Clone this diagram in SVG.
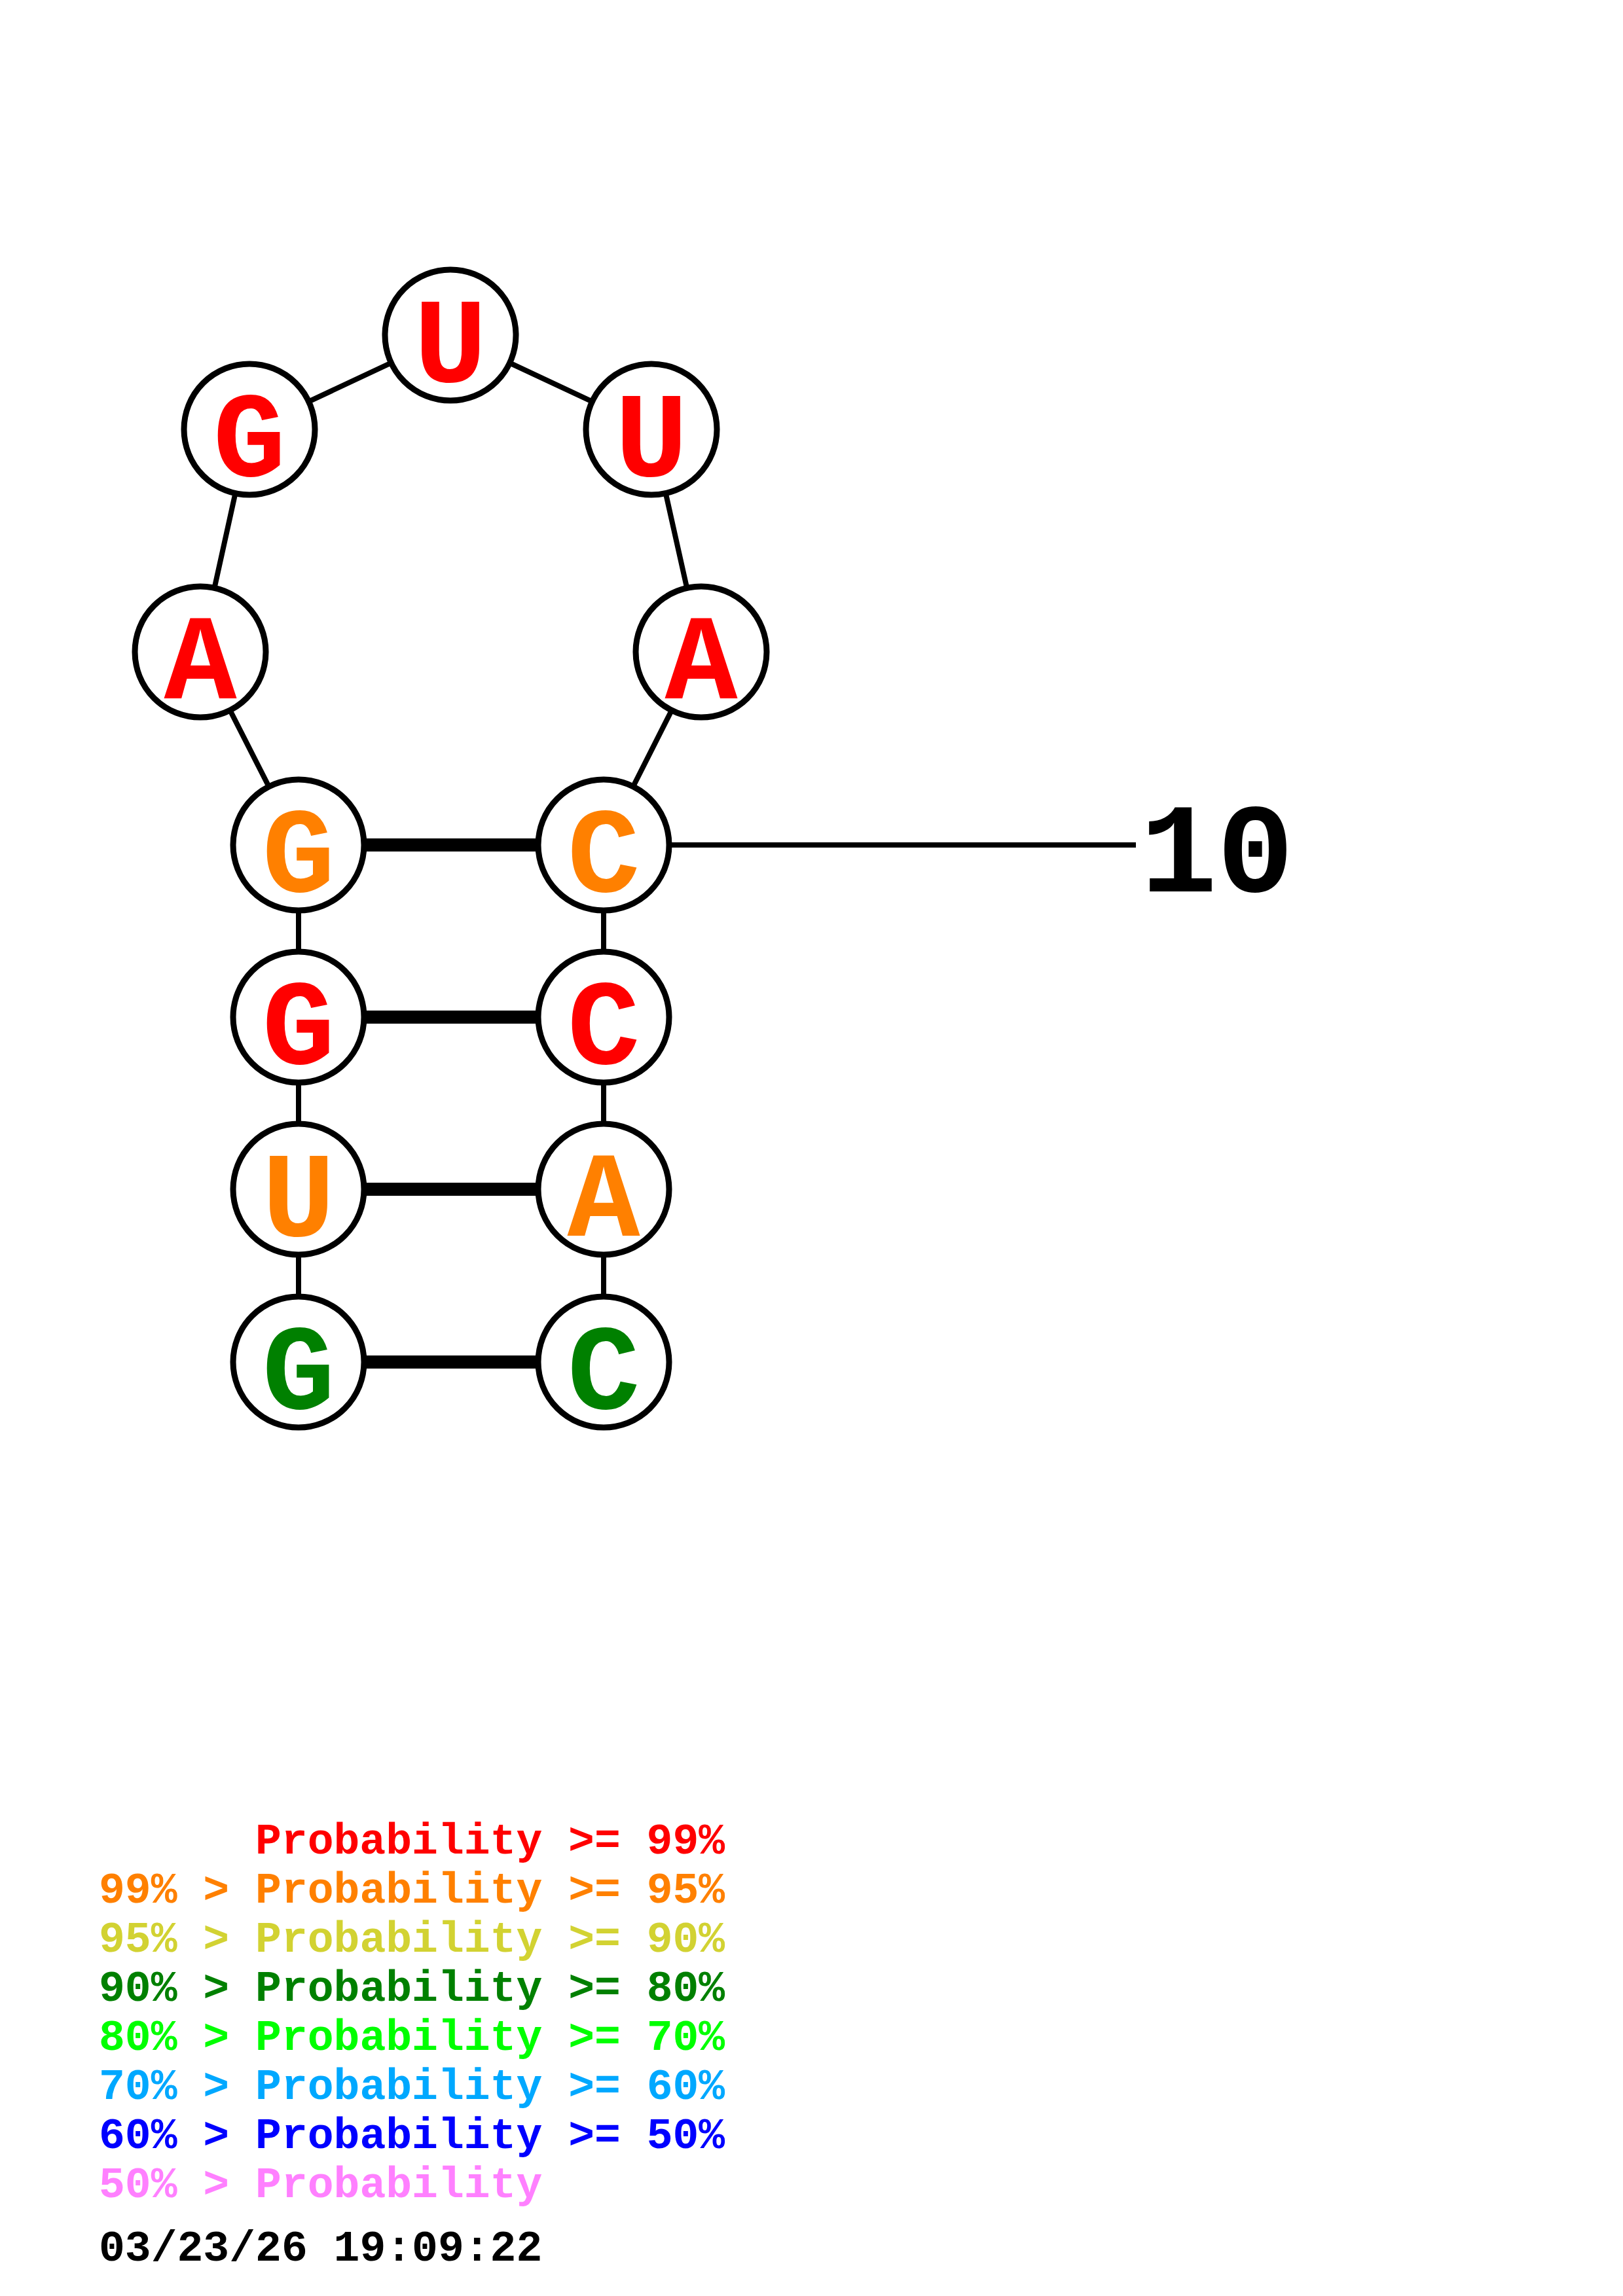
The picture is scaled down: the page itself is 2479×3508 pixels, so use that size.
<svg xmlns="http://www.w3.org/2000/svg" width="2479" height="3508" viewBox="0 0 2479 3508">
<style>
.bb{stroke:#000;stroke-width:8;fill:none}
.bp{stroke:#000;stroke-width:20;fill:none}
.nc{fill:#fff;stroke:#000;stroke-width:9}
.nt{font-family:"Liberation Mono",monospace;font-weight:bold;font-size:185px;text-anchor:middle}
.lg{font-family:"Liberation Mono",monospace;font-weight:bold;font-size:66.4px}
.r{fill:#FF0000}.o{fill:#FF8000}.y{fill:#D2D232}.dg{fill:#008000}.g{fill:#00FF00}.lb{fill:#00A8FF}.b{fill:#0000FF}.p{fill:#FF80FF}.k{fill:#000}
</style>
<rect width="2479" height="3508" fill="#fff"/>
<g id="connectors">
<line class="bb" x1="456" y1="2081" x2="456" y2="1291"/>
<line class="bb" x1="922" y1="2081" x2="922" y2="1291"/>
<polyline class="bb" points="456,1291 306,996 381,656 688,512 995,656 1071,996 922,1291"/>
<line class="bp" x1="456" y1="1291" x2="922" y2="1291"/>
<line class="bp" x1="456" y1="1554" x2="922" y2="1554"/>
<line class="bp" x1="456" y1="1817" x2="922" y2="1817"/>
<line class="bp" x1="456" y1="2081" x2="922" y2="2081"/>
<line class="bb" x1="922" y1="1291" x2="1735" y2="1291"/>
</g>
<g id="n1"><circle class="nc" cx="456" cy="2081" r="100"/><text class="nt dg" x="456" y="2152">G</text></g>
<g id="n2"><circle class="nc" cx="456" cy="1817" r="100"/><text class="nt o" x="456" y="1888">U</text></g>
<g id="n3"><circle class="nc" cx="456" cy="1554" r="100"/><text class="nt r" x="456" y="1625">G</text></g>
<g id="n4"><circle class="nc" cx="456" cy="1291" r="100"/><text class="nt o" x="456" y="1362">G</text></g>
<g id="n5"><circle class="nc" cx="306" cy="996" r="100"/><text class="nt r" x="306" y="1067">A</text></g>
<g id="n6"><circle class="nc" cx="381" cy="656" r="100"/><text class="nt r" x="381" y="727">G</text></g>
<g id="n7"><circle class="nc" cx="688" cy="512" r="100"/><text class="nt r" x="688" y="583">U</text></g>
<g id="n8"><circle class="nc" cx="995" cy="656" r="100"/><text class="nt r" x="995" y="727">U</text></g>
<g id="n9"><circle class="nc" cx="1071" cy="996" r="100"/><text class="nt r" x="1071" y="1067">A</text></g>
<g id="n10"><circle class="nc" cx="922" cy="1291" r="100"/><text class="nt o" x="922" y="1362">C</text></g>
<g id="n11"><circle class="nc" cx="922" cy="1554" r="100"/><text class="nt r" x="922" y="1625">C</text></g>
<g id="n12"><circle class="nc" cx="922" cy="1817" r="100"/><text class="nt o" x="922" y="1888">A</text></g>
<g id="n13"><circle class="nc" cx="922" cy="2081" r="100"/><text class="nt dg" x="922" y="2152">C</text></g>
<g id="label10"><text x="1742" y="1362" font-family="Liberation Mono, monospace" font-weight="bold" font-size="195" fill="#000">10</text></g>
<g id="legend">
<text class="lg r" x="390" y="2832">Probability &gt;= 99%</text>
<text class="lg o" x="151" y="2907">99% &gt; Probability &gt;= 95%</text>
<text class="lg y" x="151" y="2982">95% &gt; Probability &gt;= 90%</text>
<text class="lg dg" x="151" y="3057">90% &gt; Probability &gt;= 80%</text>
<text class="lg g" x="151" y="3132">80% &gt; Probability &gt;= 70%</text>
<text class="lg lb" x="151" y="3207">70% &gt; Probability &gt;= 60%</text>
<text class="lg b" x="151" y="3282">60% &gt; Probability &gt;= 50%</text>
<text class="lg p" x="151" y="3357">50% &gt; Probability</text>
<text class="lg k" x="151" y="3454">03/23/26 19:09:22</text>
</g>
</svg>
